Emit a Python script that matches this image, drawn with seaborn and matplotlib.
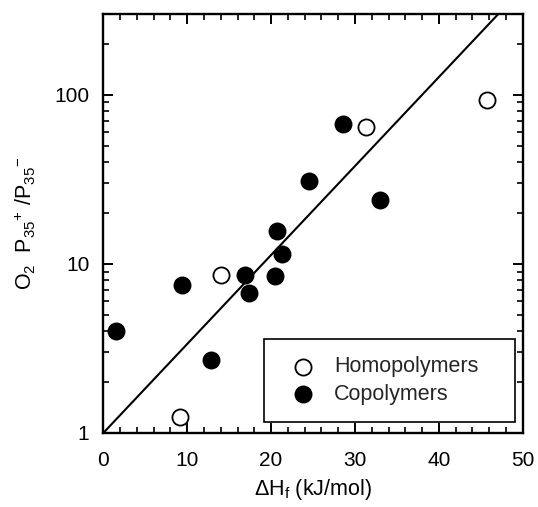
import matplotlib
matplotlib.use("Agg")
import matplotlib.pyplot as plt
from matplotlib.ticker import MultipleLocator, LogLocator, NullFormatter, FixedLocator, FixedFormatter
import seaborn as sns
import numpy as np
import pandas as pd

# Data
homo_dh = [9.15, 14.05, 31.3, 45.75]
homo_ratio = [1.24, 8.57, 64.1, 93.0]
co_dh = [1.5, 9.4, 12.8, 16.95, 17.35, 20.5, 20.75, 21.25, 24.5, 28.6, 33.0]
co_ratio = [4.0, 7.48, 2.70, 8.64, 6.74, 8.53, 15.6, 11.4, 30.7, 67.4, 23.7]
fit_slope = 0.0526   # log10(ratio) per kJ/mol, line through (0, 1)
fit_x = [0.0, 50.0]
x_ticks = [0, 10, 20, 30, 40, 50]
y_ticks = [1, 10, 100]
y_ticklabels = ["1", "10", "100"]

sns.set_theme(style="ticks")
plt.rcParams["font.family"] = ["Liberation Sans", "DejaVu Sans"]
plt.rcParams["mathtext.fontset"] = "custom"
plt.rcParams["mathtext.rm"] = "Liberation Sans"
plt.rcParams["mathtext.it"] = "Liberation Sans"
plt.rcParams["mathtext.bf"] = "Liberation Sans"

fig = plt.figure(figsize=(5.38, 5.07), dpi=100)
ax = fig.add_axes([0.192, 0.146, 0.7796, 0.8264])

fit_df = pd.DataFrame({"x": fit_x, "y": [10 ** (fit_slope * v) for v in fit_x]})
sns.lineplot(data=fit_df, x="x", y="y", ax=ax, color="black", linewidth=1.5, legend=False)

homo_df = pd.DataFrame({"dh": homo_dh, "r": homo_ratio})
co_df = pd.DataFrame({"dh": co_dh, "r": co_ratio})
sns.scatterplot(data=homo_df, x="dh", y="r", ax=ax, s=135, facecolor="white",
                edgecolor="black", linewidth=1.3, label="Homopolymers", zorder=3)
sns.scatterplot(data=co_df, x="dh", y="r", ax=ax, s=135, color="black",
                edgecolor="black", linewidth=1.3, label="Copolymers", zorder=3)

ax.set_yscale("log")
ax.set_xlim(0, 50)
ax.set_ylim(1, 300)

ax.xaxis.set_major_locator(FixedLocator(x_ticks))
ax.xaxis.set_minor_locator(MultipleLocator(2))
ax.yaxis.set_major_locator(FixedLocator(y_ticks))
ax.yaxis.set_major_formatter(FixedFormatter(y_ticklabels))
ax.yaxis.set_minor_locator(LogLocator(base=10, subs=np.arange(2, 10)))
ax.yaxis.set_minor_formatter(NullFormatter())

ax.tick_params(which="both", direction="in", top=True, right=True, color="black",
               labelsize=15, labelcolor="black")
ax.tick_params(which="major", length=7, width=1.4)
ax.tick_params(axis="x", which="major", pad=13)
ax.tick_params(axis="y", which="major", pad=10)
ax.tick_params(which="minor", length=4, width=1.2)
for sp in ax.spines.values():
    sp.set_color("black")
    sp.set_linewidth(1.7)

ax.set_xlabel(r"$\Delta$H$_\mathrm{f}$ (kJ/mol)", fontsize=15.5, color="black", labelpad=5)
ax.set_ylabel(r"O$_2$  P$_{35}$$^{+}$ /P$_{35}$$^{-}$", fontsize=15.5, color="black", labelpad=12)

leg = ax.legend(loc="lower left", bbox_to_anchor=(0.383, 0.026, 0.5986, 0.196), mode="expand",
                frameon=True, fancybox=False, fontsize=15.5, handletextpad=0.45,
                borderpad=0.8, labelspacing=0.3, borderaxespad=0, handlelength=2.0)
leg.get_frame().set_edgecolor("black")
leg.get_frame().set_linewidth(1.2)
leg.get_frame().set_alpha(1)

fig.savefig("out.png", dpi=100)
